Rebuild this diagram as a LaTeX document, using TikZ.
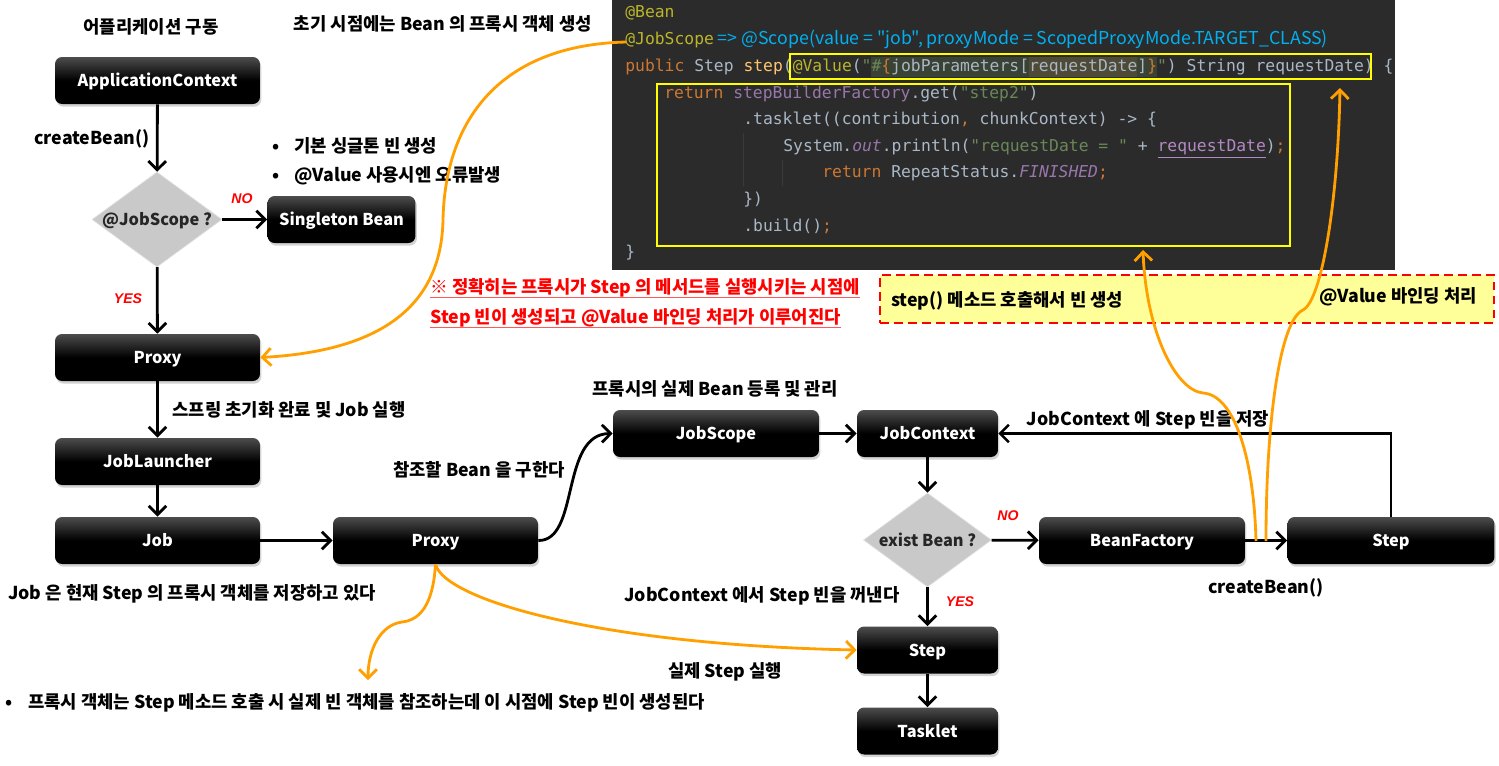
\documentclass[tikz,border=0pt]{standalone}
\usepackage{fontspec}
\setmainfont{Noto Sans CJK KR}
\newfontfamily\codefont{DejaVu Sans Mono}
\newfontfamily\scopefont{Noto Sans CJK KR}[Ligatures=TeXOff]
\newfontfamily\flagfont{Liberation Sans}
\usetikzlibrary{arrows.meta,shapes.geometric,shadows}

\definecolor{hintorange}{RGB}{255,160,0}
\definecolor{notered}{RGB}{255,0,0}
\definecolor{notefill}{RGB}{255,255,153}
\definecolor{codebg}{HTML}{2B2B2B}
\definecolor{cdguide}{HTML}{3A3A3A}
\definecolor{cdfg}{HTML}{A9B7C6}
\definecolor{cdkwc}{HTML}{CC7832}
\definecolor{cdannc}{HTML}{BBB529}
\definecolor{cdfnc}{HTML}{FFC66D}
\definecolor{cdstrc}{HTML}{6A8759}
\definecolor{cdfldc}{HTML}{9876AA}
\definecolor{cdvarc}{HTML}{B389C5}
\definecolor{cdblue}{RGB}{0,176,240}
\definecolor{codeyellow}{RGB}{255,255,0}
\definecolor{hlbg}{HTML}{3A4234}
\definecolor{hlbgb}{HTML}{4E4A36}

\newcommand\cdkw[1]{\textcolor{cdkwc}{#1}}
\newcommand\cdann[1]{\textcolor{cdannc}{#1}}
\newcommand\cdfn[1]{\textcolor{cdfnc}{#1}}
\newcommand\cdstr[1]{\textcolor{cdstrc}{#1}}
\newcommand\cdfld[1]{\textcolor{cdfldc}{#1}}
\newcommand\cdst[1]{\textcolor{cdfldc}{\itshape #1}}
\newcommand\cdvar[1]{\textcolor{cdvarc}{\underline{#1}}}
\newcommand\lblfont{\fontsize{10.1}{12}\selectfont\bfseries}
\newcommand\boxfont{\fontsize{9.3}{11}\selectfont\bfseries}
\newcommand\cdsize{\fontsize{9.31}{11}\selectfont}

\tikzset{
    blackbox/.style={rectangle, rounded corners=4pt, top color=black!70, bottom color=black, middle color=black,
        text=white, font=\boxfont, minimum height=0.94cm, inner sep=2pt, text height=0.8em, text depth=0.08em,
        drop shadow={opacity=0.35, shadow xshift=0.8pt, shadow yshift=-1.5pt}},
    decision/.style={diamond, fill=black!21, draw=black!12, text=black!85, font=\boxfont, inner sep=0pt,
        text height=0.8em, text depth=0.08em},
    flow/.style={draw=black, line width=1.6pt, -{Straight Barb[length=5pt,width=10pt]}},
    hint/.style={draw=hintorange, line width=1.6pt, -{Straight Barb[length=5pt,width=10pt]}},
    txt/.style={font=\lblfont, inner sep=1pt},
    flag/.style={text=notered, font=\flagfont\fontsize{8}{9}\selectfont\bfseries\itshape, inner sep=0pt},
    codeln/.style={anchor=west, inner sep=0pt, text height=7pt, text depth=2pt, font=\codefont\cdsize, text=cdfg},
    warn/.style={text=notered, font=\lblfont, anchor=west, inner sep=0pt},
    noteline/.style={draw=notered!65, line width=0.8pt},
    notebox/.style={draw=notered, fill=notefill, line width=1.6pt, dash pattern=on 5pt off 3pt},
}

\begin{document}
\begin{tikzpicture}[x=0.02cm, y=-0.02cm]
    \useasboundingbox (0,0) rectangle (1499,765);

    \fill[codebg] (612,0) rectangle (1395,270);
    \fill[hlbg] (871,57) rectangle (1157,77);
    \fill[hlbgb] (1029,57) rectangle (1137,77);
    \draw[cdguide] (743,133) -- (743,186);
    \draw[cdguide] (782,160) -- (782,186);
    \node[codeln] (cdA) at (625,13) {\cdann{@Bean}};
    \node[codeln] (cdB) at (625,40) {\cdann{@JobScope}{\scopefont\fontsize{10.1}{12}\selectfont\color{cdblue}\ => @Scope(value = "job", proxyMode = ScopedProxyMode.TARGET\_CLASS)}};
    \node[codeln] (cdC) at (625,67) {\cdkw{public} Step \cdfn{step}(\cdann{@Value}(\cdstr{"\#}\cdkw{\{}jobParameters[requestDate]\cdkw{\}}\cdstr{"}) String requestDate) \{};
    \node[codeln] (cdD) at (664,94) {\cdkw{return} \cdfld{stepBuilderFactory}.get(\cdstr{"step2"})};
    \node[codeln] (cdE) at (743,120) {.tasklet((contribution\cdkw{,} chunkContext) -> \{};
    \node[codeln] (cdF) at (783,147) {System.\cdst{out}.println(\cdstr{"requestDate = "} + \cdvar{requestDate})\cdkw{;}};
    \node[codeln] (cdG) at (822,173) {\cdkw{return} RepeatStatus.\cdst{FINISHED}\cdkw{;}};
    \node[codeln] (cdH) at (743,200) {\})};
    \node[codeln] (cdI) at (743,227) {.build()\cdkw{;}};
    \node[codeln] (cdJ) at (625,253) {\}};
    \draw[codeyellow, line width=1.1pt] (790,54) rectangle (1371,79);
    \draw[codeyellow, line width=1.1pt] (657,84) rectangle (1290,246);

    \node[blackbox, minimum width=4.1cm] (appctx) at (157.5,80.5) {ApplicationContext};
    \node[decision, minimum width=2.6cm, minimum height=1.9cm] (jsdec) at (157,219.5) {\makebox[0pt]{@JobScope ?}};
    \node[blackbox, minimum width=2.96cm] (single) at (341.5,219.5) {Singleton Bean};
    \node[blackbox, minimum width=4.1cm] (proxyA) at (157.5,357.5) {Proxy};
    \node[blackbox, minimum width=4.1cm] (launcher) at (157.5,461.5) {JobLauncher};
    \node[blackbox, minimum width=4.1cm] (job) at (157.5,540.5) {Job};
    \node[blackbox, minimum width=4.1cm] (proxyB) at (435.5,540.5) {Proxy};
    \node[blackbox, minimum width=4.12cm] (jobscope) at (716,433.5) {JobScope};
    \node[blackbox, minimum width=2.82cm] (jobctx) at (927.5,433.5) {JobContext};
    \node[decision, minimum width=2.56cm, minimum height=1.88cm] (exist) at (927.5,540) {\makebox[0pt]{exist Bean ?}};
    \node[blackbox, minimum width=4.12cm] (beanfac) at (1142,540.5) {BeanFactory};
    \node[blackbox, minimum width=4.14cm] (stepR) at (1391,540.5) {Step};
    \node[blackbox, minimum width=2.82cm] (stepB) at (927.5,650) {Step};
    \node[blackbox, minimum width=2.82cm] (tasklet) at (927.5,731) {Tasklet};

    \draw[flow] (appctx) -- (jsdec);
    \draw[flow] (jsdec) -- (single);
    \draw[flow] (jsdec) -- (proxyA);
    \draw[flow] (proxyA) -- (launcher);
    \draw[flow] (launcher) -- (job);
    \draw[flow] (job) -- (proxyB);
    \draw[flow] (proxyB.east) .. controls (580,541) and (560,434) .. (jobscope.west);
    \draw[flow] (jobscope) -- (jobctx);
    \draw[flow] (jobctx) -- (exist);
    \draw[flow] (exist) -- (beanfac);
    \draw[flow] (exist) -- (stepB);
    \draw[flow] (stepB) -- (tasklet);
    \draw[flow] (beanfac) -- (stepR);
    \draw[flow, line width=1.4pt] (stepR.north) |- (jobctx.east);

    \node[txt] (lblStart) at (151,27) {어플리케이션 구동};
    \node[txt] (lblInit) at (443,24) {초기 시점에는 Bean 의 프록시 객체 생성};
    \node[txt] (lblCreateA) at (92,139) {createBean()};
    \node[txt, anchor=west] (bulletA) at (270,146) {\makebox[1.25em][l]{•}기본 싱글톤 빈 생성};
    \node[txt, anchor=west] (bulletB) at (270,176) {\makebox[1.25em][l]{•}@Value 사용시엔 오류발생};
    \node[flag] (lblNoA) at (242,199) {NO};
    \node[flag] (lblYesA) at (128,299) {YES};
    \node[txt] (lblSpring) at (289,410) {스프링 초기화 완료 및 Job 실행};
    \node[txt] (lblJobHolds) at (192,594) {Job 은 현재 Step 의 프록시 객체를 저장하고 있다};
    \node[txt] (lblFind) at (479,470) {참조할 Bean 을 구한다};
    \node[txt] (lblRegister) at (715,389) {프록시의 실제 Bean 등록 및 관리};
    \node[txt] (lblSave) at (1148,420) {JobContext 에 Step 빈을 저장};
    \node[flag] (lblNoB) at (1008,516) {NO};
    \node[flag] (lblYesB) at (960,602) {YES};
    \node[txt] (lblTake) at (762,596) {JobContext 에서 Step 빈을 꺼낸다};
    \node[txt] (lblRun) at (725,672) {실제 Step 실행};
    \node[txt] (lblCreateB) at (1266,588) {createBean()};
    \node[txt, anchor=west] (bulletC) at (3,703) {\makebox[1.3em][l]{•}프록시 객체는 Step 메소드 호출 시 실제 빈 객체를 참조하는데 이 시점에 Step 빈이 생성된다};

    \node[warn] (noteA) at (430,288) {※ 정확히는 프록시가 Step 의 메서드를 실행시키는 시점에};
    \node[warn] (noteB) at (430,318) {Step 빈이 생성되고 @Value 바인딩 처리가 이루어진다};
    \draw[noteline] (noteA.south west) -- (noteA.south east);
    \draw[noteline] (noteB.south west) -- (noteB.south east);

    \node[notebox, minimum width=12.28cm, minimum height=0.96cm] (bindnote) at (1187,299) {};
    \node[txt, anchor=west] (textStep) at (889,301) {step() 메소드 호출해서 빈 생성};
    \node[txt, anchor=east] (textBind) at (1479,297) {@Value 바인딩 처리};

    \coordinate (jsmark) at (626,42);
    \coordinate (tipDown) at (368,680);
    \coordinate (tipCode) at (1143,250);
    \coordinate (tipValue) at (1340,88);
    \coordinate (cbA) at (1256,541);
    \coordinate (cbB) at (1266,541);
    \draw[hint] (jsmark) .. controls (500,45) and (445,120) .. (443,220) .. controls (441,320) and (360,352) .. (proxyA.east);
    \draw[hint] (proxyB.south) .. controls (433,605) and (420,620) .. (402,622) .. controls (380,625) and (368,650) .. (tipDown);
    \draw[hint] (proxyB.south) .. controls (445,600) and (600,645) .. (stepB.west);
    \draw[hint] (cbA) .. controls (1254,460) and (1235,395) .. (1203,393) .. controls (1175,390) and (1146,330) .. (tipCode);
    \draw[hint] (cbB) .. controls (1266,420) and (1280,320) .. (1303,310) .. controls (1322,300) and (1338,200) .. (tipValue);
\end{tikzpicture}
\end{document}
